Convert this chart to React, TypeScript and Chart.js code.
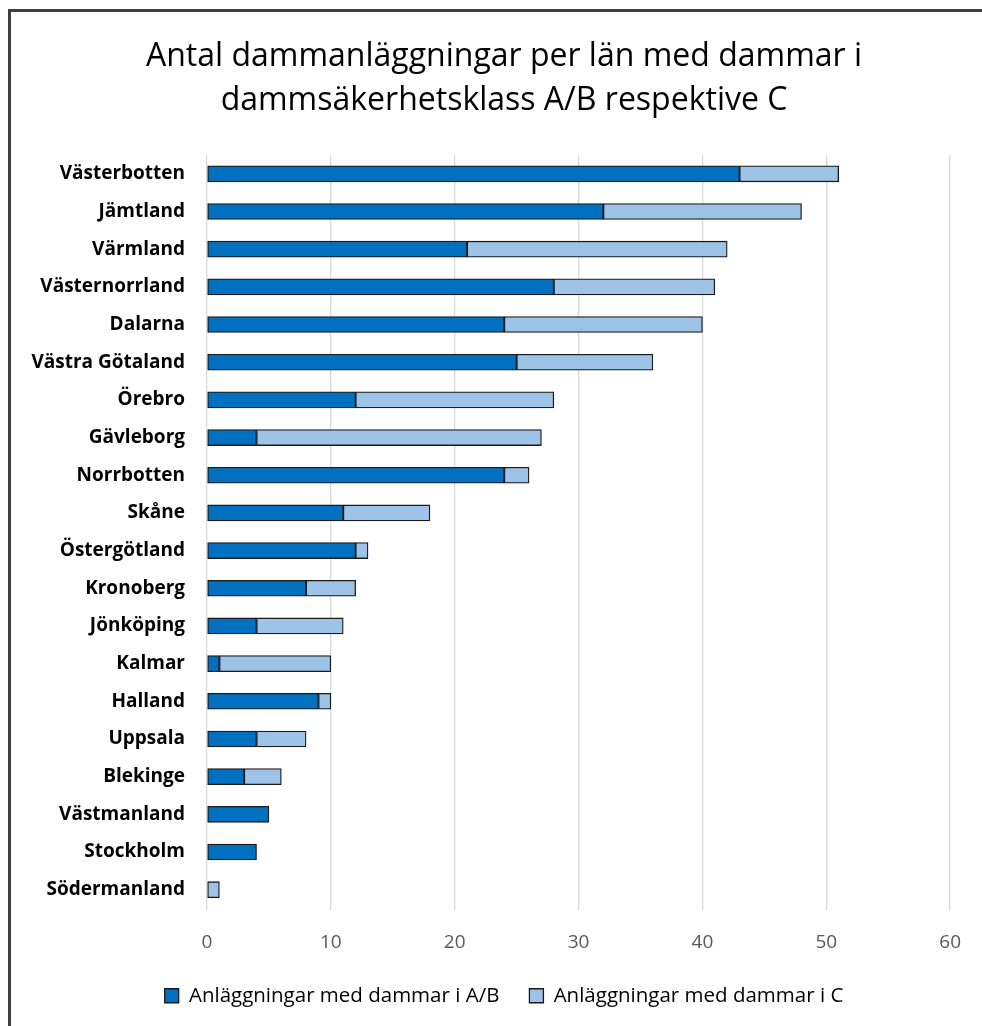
import React, { useEffect, useRef } from "react";
import { Chart, registerables } from "chart.js";

Chart.register(...registerables);

const titleLines = [
  "Antal dammanläggningar per län med dammar i",
  "dammsäkerhetsklass A/B respektive C",
];

const categories = [
  "Västerbotten",
  "Jämtland",
  "Värmland",
  "Västernorrland",
  "Dalarna",
  "Västra Götaland",
  "Örebro",
  "Gävleborg",
  "Norrbotten",
  "Skåne",
  "Östergötland",
  "Kronoberg",
  "Jönköping",
  "Kalmar",
  "Halland",
  "Uppsala",
  "Blekinge",
  "Västmanland",
  "Stockholm",
  "Södermanland",
];

const seriesAB = [43, 32, 21, 28, 24, 25, 12, 4, 24, 11, 12, 8, 4, 1, 9, 4, 3, 5, 4, 0];
const seriesC = [8, 16, 21, 13, 16, 11, 16, 23, 2, 7, 1, 4, 7, 9, 1, 4, 3, 0, 0, 1];

const seriesNames = ["Anläggningar med dammar i A/B", "Anläggningar med dammar i C"];
const xTicks = [0, 10, 20, 30, 40, 50, 60];

const FONT = "'Open Sans', Lato, sans-serif";

export default function App() {
  const ref = useRef<HTMLCanvasElement | null>(null);

  useEffect(() => {
    if (!ref.current) return;
    const chart = new Chart(ref.current, {
      type: "bar",
      data: {
        labels: categories,
        datasets: [
          {
            label: seriesNames[0],
            data: seriesAB,
            backgroundColor: "#0070C0",
            borderColor: "#1a1a1a",
            borderWidth: 1.3,
            borderSkipped: false,
            barThickness: 16,
          },
          {
            label: seriesNames[1],
            data: seriesC,
            backgroundColor: "#9DC3E6",
            borderColor: "#1a1a1a",
            borderWidth: 1.3,
            borderSkipped: false,
            barThickness: 16,
          },
        ],
      },
      options: {
        indexAxis: "y",
        animation: false,
        responsive: false,
        maintainAspectRatio: false,
        layout: { padding: { top: 35, right: 0, left: 26, bottom: 10 } },
        plugins: {
          title: {
            display: true,
            text: titleLines,
            color: "#000",
            font: { family: FONT, size: 32, weight: "normal", lineHeight: 1.375 },
            padding: { top: 0, bottom: 32 },
          },
          legend: {
            position: "bottom",
            labels: {
              color: "#000",
              font: { family: FONT, size: 20.5 },
              boxWidth: 14,
              boxHeight: 14,
              padding: 30,
              generateLabels: (c: any) =>
                c.data.datasets.map((ds: any, i: number) => ({
                  text: ds.label,
                  fillStyle: ds.backgroundColor,
                  strokeStyle: "#1a1a1a",
                  lineWidth: 1.3,
                  datasetIndex: i,
                  hidden: false,
                })),
            },
          },
          tooltip: { enabled: false },
        },
        scales: {
          x: {
            stacked: true,
            min: 0,
            max: 60,
            afterBuildTicks: (s: any) => {
              s.ticks = xTicks.map((v) => ({ value: v }));
            },
            grid: { color: "#d9d9d9", lineWidth: 1.3, drawTicks: true, tickLength: 2 },
            border: { display: false },
            ticks: {
              color: "#595959",
              font: { family: FONT, size: 19 },
              padding: 21,
            },
            afterFit: (s: any) => {
              s.height = 47;
            },
          },
          y: {
            stacked: true,
            grid: { display: false, drawTicks: false },
            border: { display: false },
            ticks: {
              color: "#000",
              font: { family: FONT, size: 19, weight: "bold" },
              padding: 22,
              autoSkip: false,
            },
            afterFit: (s: any) => {
              s.width = 181;
            },
          },
          yRight: {
            type: "linear",
            position: "right",
            display: true,
            grid: { display: false, drawTicks: false },
            border: { display: false },
            ticks: { display: false },
            afterFit: (s: any) => {
              s.width = 26;
            },
          },
        },
      },
    });
    return () => chart.destroy();
  }, []);

  return (
    <div
      style={{
        position: "absolute",
        left: 0,
        top: 0,
        width: 982,
        height: 1026,
        overflow: "hidden",
        background: "#fff",
      }}
    >
      <div
        style={{
          position: "absolute",
          left: 8,
          top: 9,
          width: 1000,
          height: 1100,
          borderLeft: "3px solid #404040",
          borderTop: "3px solid #404040",
          boxSizing: "border-box",
        }}
      />
      <canvas
        ref={ref}
        width={982}
        height={1026}
        style={{ position: "absolute", left: 0, top: 0, width: 982, height: 1026 }}
      />
    </div>
  );
}
